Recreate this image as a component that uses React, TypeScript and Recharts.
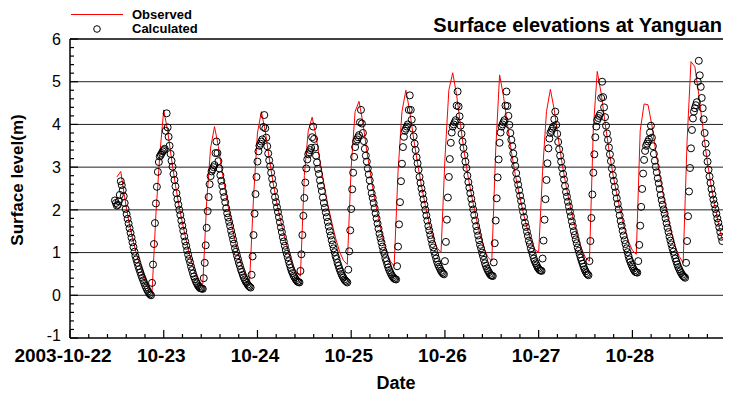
import React from 'react';
import { ComposedChart, Line, Scatter, XAxis, YAxis, ReferenceLine } from 'recharts';

// observed levels, hourly, starting 2003-10-22 12:00
const obsStartHour = 12;
const obsOct22 = [2.77, 2.9, 2.28, 1.76, 1.34, 0.97, 0.66, 0.4, 0.2, 0.06, 1.9, 3.3];
const obsOct23 = [4.34, 3.85, 3.19, 2.58, 2.05, 1.6, 1.19, 0.82, 0.54, 0.33, 0.25, 2.2, 3.45, 3.95, 3.48, 2.87, 2.33, 1.83, 1.39, 1.0, 0.67, 0.46, 0.35, 2.3];
const obsOct24 = [3.8, 4.3, 3.84, 3.22, 2.64, 2.14, 1.72, 1.34, 0.99, 0.72, 0.53, 0.45, 2.8, 3.85, 4.17, 3.72, 3.14, 2.62, 2.13, 1.72, 1.34, 1.03, 0.82, 0.72];
const obsOct25 = [3.0, 4.3, 4.54, 4.04, 3.38, 2.8, 2.26, 1.8, 1.37, 1.03, 0.8, 0.68, 2.9, 4.3, 4.8, 4.31, 3.66, 3.09, 2.56, 2.1, 1.68, 1.34, 1.11, 1.0];
const obsOct26 = [3.2, 4.8, 5.21, 4.68, 3.98, 3.31, 2.74, 2.26, 1.81, 1.42, 1.11, 0.89, 0.8, 3.4, 5.16, 4.66, 4.0, 3.37, 2.83, 2.37, 1.96, 1.58, 1.29, 1.08];
const obsOct27 = [1.0, 2.9, 4.3, 4.82, 4.34, 3.69, 3.09, 2.57, 2.13, 1.72, 1.36, 1.08, 0.88, 0.8, 3.9, 5.24, 4.73, 4.04, 3.4, 2.84, 2.37, 1.94, 1.56, 1.26];
const obsOct28 = [1.05, 0.96, 3.85, 4.48, 4.46, 3.98, 3.36, 2.81, 2.3, 1.86, 1.46, 1.13, 0.91, 0.76, 3.6, 5.47, 5.35, 4.7, 3.95, 3.25, 2.65, 2.15, 1.7, 1.3];

// calculated levels, every 15 min from 2003-10-22 11:30, one array per tide
const calcStartMin = 690;
const calcStepMin = 15;
const calcTide0 = [2.22, 2.16, 2.1, 2.12, 2.2, 2.35, 2.67, 2.58, 2.46, 2.32, 2.16, 2.02, 1.9, 1.79, 1.68, 1.57, 1.46, 1.35, 1.24, 1.13, 1.02, 0.92, 0.84, 0.76, 0.68, 0.61, 0.54, 0.47, 0.41, 0.35, 0.29, 0.23, 0.18, 0.13, 0.09, 0.05, 0.02];
const calcTide1 = [0.0, 0.29, 0.72, 1.2, 1.69, 2.15, 2.54, 2.89, 3.12, 3.25, 3.29, 3.33, 3.37, 3.4, 3.43, 3.85, 4.26, 3.93, 3.71, 3.5, 3.31, 3.15, 3.01, 2.84, 2.7, 2.55, 2.39, 2.25, 2.12, 2.0, 1.88, 1.75, 1.63, 1.51, 1.38, 1.26, 1.16, 1.05, 0.95, 0.85, 0.77, 0.67, 0.59, 0.51, 0.44, 0.38, 0.32, 0.28, 0.23, 0.2, 0.17, 0.16, 0.16];
const calcTide2 = [0.15, 0.4, 0.76, 1.17, 1.58, 1.97, 2.3, 2.6, 2.79, 2.9, 2.95, 3.0, 3.05, 3.33, 3.6, 3.33, 3.14, 2.97, 2.81, 2.68, 2.56, 2.42, 2.3, 2.18, 2.04, 1.92, 1.82, 1.72, 1.62, 1.51, 1.41, 1.31, 1.21, 1.1, 1.02, 0.93, 0.85, 0.76, 0.69, 0.61, 0.55, 0.48, 0.42, 0.37, 0.32, 0.29, 0.25, 0.22, 0.2];
const calcTide3 = [0.18, 0.48, 0.91, 1.41, 1.91, 2.37, 2.77, 3.13, 3.37, 3.5, 3.55, 3.6, 3.65, 3.94, 4.22, 3.91, 3.69, 3.49, 3.32, 3.16, 3.02, 2.87, 2.73, 2.59, 2.44, 2.3, 2.18, 2.06, 1.95, 1.83, 1.71, 1.59, 1.48, 1.36, 1.26, 1.16, 1.06, 0.97, 0.89, 0.8, 0.72, 0.64, 0.57, 0.52, 0.46, 0.42, 0.38, 0.35, 0.32, 0.31];
const calcTide4 = [0.3, 0.57, 0.96, 1.41, 1.86, 2.28, 2.64, 2.97, 3.18, 3.3, 3.35, 3.4, 3.45, 3.7, 3.95, 3.66, 3.46, 3.27, 3.11, 2.96, 2.84, 2.69, 2.56, 2.44, 2.29, 2.16, 2.05, 1.94, 1.83, 1.72, 1.61, 1.5, 1.4, 1.29, 1.19, 1.1, 1.01, 0.92, 0.85, 0.76, 0.69, 0.62, 0.56, 0.5, 0.45, 0.41, 0.37, 0.34, 0.32];
const calcTide5 = [0.3, 0.6, 1.03, 1.52, 2.02, 2.48, 2.87, 3.24, 3.47, 3.6, 3.65, 3.7, 3.75, 4.05, 4.34, 4.02, 3.8, 3.61, 3.43, 3.27, 3.13, 2.97, 2.83, 2.69, 2.53, 2.39, 2.28, 2.16, 2.04, 1.92, 1.8, 1.68, 1.56, 1.44, 1.34, 1.24, 1.14, 1.04, 0.97, 0.87, 0.8, 0.72, 0.65, 0.59, 0.54, 0.49, 0.45, 0.42, 0.39, 0.38];
const calcTide6 = [0.37, 0.68, 1.14, 1.66, 2.18, 2.67, 3.08, 3.47, 3.71, 3.85, 3.9, 3.95, 4.0, 4.34, 4.68, 4.34, 4.11, 3.9, 3.72, 3.55, 3.4, 3.23, 3.09, 2.94, 2.77, 2.63, 2.5, 2.38, 2.25, 2.12, 2.0, 1.87, 1.75, 1.62, 1.52, 1.41, 1.31, 1.2, 1.12, 1.02, 0.94, 0.86, 0.78, 0.72, 0.67, 0.62, 0.57, 0.54, 0.51];
const calcTide7 = [0.49, 0.8, 1.25, 1.77, 2.29, 2.77, 3.19, 3.57, 3.81, 3.95, 4.0, 4.05, 4.1, 4.44, 4.77, 4.42, 4.19, 3.97, 3.78, 3.6, 3.45, 3.28, 3.13, 2.98, 2.8, 2.65, 2.52, 2.39, 2.26, 2.13, 2.01, 1.88, 1.75, 1.62, 1.51, 1.4, 1.29, 1.18, 1.1, 1.0, 0.92, 0.83, 0.75, 0.69, 0.63, 0.58, 0.54, 0.5, 0.47, 0.46];
const calcTide8 = [0.45, 0.77, 1.22, 1.75, 2.27, 2.76, 3.18, 3.57, 3.81, 3.95, 4.0, 4.05, 4.1, 4.44, 4.77, 4.43, 4.2, 3.99, 3.8, 3.64, 3.49, 3.32, 3.17, 3.03, 2.86, 2.71, 2.59, 2.46, 2.33, 2.21, 2.08, 1.96, 1.83, 1.7, 1.6, 1.49, 1.39, 1.28, 1.2, 1.1, 1.02, 0.94, 0.86, 0.8, 0.75, 0.7, 0.65, 0.62, 0.59, 0.58];
const calcTide9 = [0.57, 0.86, 1.28, 1.77, 2.25, 2.7, 3.09, 3.44, 3.67, 3.8, 3.85, 3.9, 3.95, 4.12, 4.3, 3.99, 3.78, 3.59, 3.42, 3.27, 3.13, 2.98, 2.84, 2.71, 2.56, 2.42, 2.31, 2.19, 2.08, 1.96, 1.85, 1.73, 1.62, 1.5, 1.41, 1.31, 1.22, 1.12, 1.04, 0.96, 0.88, 0.81, 0.74, 0.67, 0.61, 0.56, 0.52, 0.49];
const calcTide10 = [0.47, 0.8, 1.27, 1.81, 2.36, 2.87, 3.3, 3.7, 3.95, 4.1, 4.15, 4.2, 4.25, 4.62, 5.0, 4.64, 4.4, 4.17, 3.97, 3.79, 3.64, 3.46, 3.3, 3.14, 2.97, 2.81, 2.68, 2.54, 2.41, 2.27, 2.14, 2.01, 1.87, 1.74, 1.63, 1.51, 1.4, 1.29, 1.2, 1.1, 1.01, 0.92, 0.84, 0.78, 0.72, 0.67, 0.62, 0.58, 0.55, 0.54];
const calcTide11 = [0.53, 0.8, 1.18, 1.63, 2.07, 2.49, 2.85, 3.17, 3.38, 3.5, 3.55, 3.6, 3.65, 3.81, 3.97, 3.69, 3.49, 3.31, 3.15, 3.01, 2.88, 2.74, 2.62, 2.49, 2.35, 2.23, 2.12, 2.01, 1.91, 1.8, 1.69, 1.58, 1.48, 1.37, 1.28, 1.19, 1.1, 1.02, 0.94, 0.86, 0.79, 0.72, 0.66, 0.61, 0.56, 0.52, 0.48, 0.45, 0.43];
const calcTide12 = [0.41, 0.76, 1.27, 1.85, 2.43, 2.98, 3.44, 3.87, 4.14, 4.3, 4.38, 4.45, 4.52, 5.0, 5.49, 5.15, 4.88, 4.62, 4.38, 4.12, 3.8, 3.55, 3.33, 3.13, 2.94, 2.78, 2.63, 2.49, 2.36, 2.24, 2.13, 2.02, 1.91, 1.8, 1.7, 1.59, 1.48, 1.37, 1.27];

const dayLabels = ['2003-10-22', '10-23', '10-24', '10-25', '10-26', '10-27', '10-28'];
const gridLevels = [0, 1, 2, 3, 4, 5];

const observed = [obsOct22, obsOct23, obsOct24, obsOct25, obsOct26, obsOct27, obsOct28]
    .flat()
    .map((v, i) => ({ h: obsStartHour + i, v }));

const calculated = [
    calcTide0, calcTide1, calcTide2, calcTide3, calcTide4, calcTide5, calcTide6,
    calcTide7, calcTide8, calcTide9, calcTide10, calcTide11, calcTide12,
]
    .flat()
    .map((v, i) => ({ h: (calcStartMin + i * calcStepMin) / 60, v }));

const FONT = '"Liberation Sans", Arial, Helvetica, sans-serif';
const PLOT_LEFT = 70;
const PLOT_BOTTOM = 338;

// minor ticks every 0.2 day on x, every 0.2 m on y
const xTicks = Array.from({ length: 35 }, (_, i) => Math.round(i * 4.8 * 10) / 10);
const yTicks = Array.from({ length: 36 }, (_, i) => Math.round((-1 + i * 0.2) * 10) / 10);

const XTick = (props: any) => {
    const { x, payload } = props;
    const day = payload.value / 24;
    const major = Math.abs(day - Math.round(day)) < 1e-6;
    const idx = Math.round(day);
    return (
        <g>
            <line x1={x} x2={x} y1={PLOT_BOTTOM} y2={PLOT_BOTTOM - (major ? 8 : 4)} stroke="#000" strokeWidth={1.2} />
            {major && (
                <text
                    x={idx === 0 ? x - 7 : x - 2.5}
                    y={PLOT_BOTTOM + 24}
                    textAnchor="middle"
                    fontFamily={FONT}
                    fontWeight="bold"
                    fontSize={19}
                    fill="#000"
                >
                    {dayLabels[idx]}
                </text>
            )}
        </g>
    );
};

const YTick = (props: any) => {
    const { y, payload } = props;
    const v = payload.value;
    const major = Math.abs(v - Math.round(v)) < 1e-6;
    return (
        <g>
            <line x1={PLOT_LEFT} x2={PLOT_LEFT + (major ? 8 : 4)} y1={y} y2={y} stroke="#000" strokeWidth={1.2} />
            {major && (
                <text
                    x={PLOT_LEFT - 9}
                    y={v === -1 ? y - 3 : y}
                    dy="0.36em"
                    textAnchor="end"
                    fontFamily={FONT}
                    fontSize={16}
                    fill="#000"
                >
                    {Math.round(v)}
                </text>
            )}
        </g>
    );
};

const Ring = (props: any) => (
    <circle cx={props.cx} cy={props.cy} r={3.5} fill="none" stroke="#000" strokeWidth={1} />
);

const App: React.FC = () => {
    return (
        <div style={{ position: 'absolute', left: 0, top: 0, width: 736, height: 397, background: '#fff' }}>
            <ComposedChart
                width={736}
                height={397}
                margin={{ top: 39, right: 13, bottom: 0, left: 0 }}
            >
                <XAxis
                    type="number"
                    dataKey="h"
                    domain={[0, 167.2]}
                    allowDataOverflow
                    ticks={xTicks}
                    interval={0}
                    height={59}
                    tickLine={false}
                    axisLine={{ stroke: '#000', strokeWidth: 1.5 }}
                    tick={<XTick />}
                />
                <YAxis
                    type="number"
                    dataKey="v"
                    domain={[-1, 6]}
                    allowDataOverflow
                    ticks={yTicks}
                    interval={0}
                    width={70}
                    tickLine={false}
                    axisLine={{ stroke: '#000', strokeWidth: 1.5 }}
                    tick={<YTick />}
                />
                {gridLevels.map((lv) => (
                    <ReferenceLine key={lv} y={lv} stroke="#222" strokeWidth={1} />
                ))}
                <ReferenceLine y={6} stroke="#000" strokeWidth={1.5} />
                <Line
                    data={observed}
                    dataKey="v"
                    type="linear"
                    stroke="#ff0000"
                    strokeWidth={1}
                    dot={false}
                    activeDot={false}
                    isAnimationActive={false}
                />
                <Scatter
                    data={calculated}
                    dataKey="v"
                    shape={<Ring />}
                    isAnimationActive={false}
                />
            </ComposedChart>
            <svg
                width={736}
                height={397}
                style={{ position: 'absolute', left: 0, top: 0, pointerEvents: 'none' }}
                fontFamily={FONT}
            >
                <line x1={71} x2={123} y1={14.5} y2={14.5} stroke="#ff0000" strokeWidth={1} />
                <text x={132} y={19} fontSize={13} fontWeight="bold" fill="#000">Observed</text>
                <circle cx={97} cy={29} r={3.3} fill="none" stroke="#000" strokeWidth={1} />
                <text x={132} y={33} fontSize={13} fontWeight="bold" fill="#000">Calculated</text>
                <text x={722} y={32} textAnchor="end" fontSize={20} fontWeight="bold" fill="#000">
                    Surface elevations at Yanguan
                </text>
                <text
                    transform="translate(23,180) rotate(-90)"
                    textAnchor="middle"
                    fontSize={17}
                    fontWeight="bold"
                    fill="#000"
                >
                    Surface level(m)
                </text>
                <text x={396} y={389} textAnchor="middle" fontSize={18} fontWeight="bold" fill="#000">
                    Date
                </text>
            </svg>
        </div>
    );
};

export default App;
